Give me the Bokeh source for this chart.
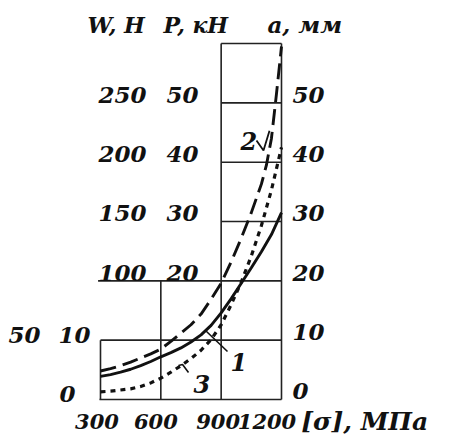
from bokeh.plotting import figure
from bokeh.models import Range1d
from bokeh.embed import file_html
from bokeh.resources import INLINE
from bokeh.core.properties import value

# ---------------- data (common scale in mm/kN units) ----------------
sigma = [300, 350, 400, 450, 500, 550, 600, 650, 700, 750, 800, 850,
         900, 950, 1000, 1050, 1100, 1150, 1200]
curve1 = [3.9, 4.2, 4.6, 5.1, 5.7, 6.4, 7.2, 7.9, 8.7, 9.7, 10.9, 12.5,
          14.6, 17.0, 19.6, 22.2, 24.9, 27.8, 31.5]
sigma2 = [300, 350, 400, 450, 500, 550, 600, 650, 700, 750, 800, 850,
          900, 950, 1000, 1050, 1100, 1125, 1150, 1175, 1200]
curve2 = [4.8, 5.2, 5.7, 6.3, 7.0, 7.7, 8.5, 9.8, 11.2, 12.6, 14.4, 16.9,
          19.6, 23.2, 27.2, 31.5, 36.3, 39.5, 44.0, 51.5, 59.5]
curve3 = [1.3, 1.4, 1.6, 1.8, 2.2, 2.8, 3.6, 4.6, 5.7, 6.9, 8.3, 10.1,
          12.6, 16.0, 19.8, 24.2, 29.3, 35.3, 42.5]

x_ticks = [300, 600, 900, 1200]
x_tick_labels = ["300", "600", "900", "1200"]
a_ticks = [0, 10, 20, 30, 40, 50]
a_labels = ["0", "10", "20", "30", "40", "50"]
P_ticks = [0, 10, 20, 30, 40, 50]
P_labels = ["0", "10", "20", "30", "40", "50"]
W_ticks = [10, 20, 30, 40, 50]
W_labels = ["50", "100", "150", "200", "250"]

# stair-step grid of the original figure
vgrid_x = [300, 600, 900, 1200]
vgrid_top = [10, 20, 60, 60]
hgrid_y = [0, 10, 20, 30, 40, 50, 60]
hgrid_left = [295, 300, 288, 900, 900, 900, 900]

FONT = value("DejaVu Serif")
INK = "#111111"
LIFT = 1.5  # raise all texts so that they sit on their grid lines

p = figure(width=441, height=435,
           x_range=Range1d(-197.2, 1995.6), y_range=Range1d(-6.067, 67.25),
           output_backend="svg", toolbar_location=None, min_border=0,
           x_axis_location=None, y_axis_location=None)
p.xgrid.visible = False
p.ygrid.visible = False
p.outline_line_color = None
p.background_fill_color = "white"
p.border_fill_color = "white"

# grid
p.segment(x0=vgrid_x, y0=[0] * len(vgrid_x), x1=vgrid_x, y1=vgrid_top,
          line_color="#222222", line_width=1.6)
p.segment(x0=hgrid_left, y0=hgrid_y, x1=[1200] * len(hgrid_y), y1=hgrid_y,
          line_color="#222222", line_width=1.6)

# curves
p.line(sigma, curve1, line_color=INK, line_width=2.9)
p.line(sigma2, curve2, line_color=INK, line_width=2.9, line_dash="16 7")
p.line(sigma, curve3, line_color=INK, line_width=3.2, line_dash="5 5")

def txt(x, y, t, size="23px", align="left", xo=0):
    p.text(x=x, y=[v + LIFT for v in y], text=t, text_font=FONT,
           text_font_style="bold italic", text_font_size=size,
           text_align=align, text_baseline="alphabetic",
           text_color=INK, x_offset=xo)

# left scales (W and P), stair-stepped
w_right = {10: 2, 20: 529, 30: 529, 40: 529, 50: 529}
p_right = {0: 176, 10: 250, 20: 787, 30: 787, 40: 787, 50: 787}
w_y_adj = {10: -0.6}
p_y_adj = {0: -0.4, 10: -0.6}
txt([w_right[t] for t in W_ticks], [t - 0.1 + w_y_adj.get(t, 0) for t in W_ticks],
    W_labels, align="right")
txt([p_right[t] for t in P_ticks], [t - 0.1 + p_y_adj.get(t, 0) for t in P_ticks],
    P_labels, align="right")

# right scale (a)
txt([1255] * len(a_ticks), [t - 0.1 for t in a_ticks], a_labels, align="left")

# bottom scale
x_off = [-3.5, -5, -3, -14.5]
for xv, lab, xo in zip(x_ticks, x_tick_labels, x_off):
    txt([xv], [-5.25], [lab], size="21px", align="center", xo=xo)
txt([1298], [-5.25], ["[σ], МПа"], size="25px", align="left")

# headers
txt([235], [61.7], ["W, Н"], size="22px")
txt([613], [61.7], ["P, кН"], size="22px")
txt([1130], [61.7], ["a, мм"], size="23px")

# curve call-outs
p.line([822, 931.5], [11.63, 8.09], line_color=INK, line_width=1.6)
txt([946], [4.9], ["1"], size="24px")
p.line([688, 708, 737.6], [5.73, 5.9, 4.55], line_color=INK, line_width=1.6)
txt([762], [1.18], ["3"], size="24px")
p.line([1075.7, 1110.5, 1140.3], [43.65, 41.97, 45.3], line_color=INK, line_width=1.8)
txt([996], [42.0], ["2"], size="24px")

open("out.html", "w").write(file_html(p, INLINE))
